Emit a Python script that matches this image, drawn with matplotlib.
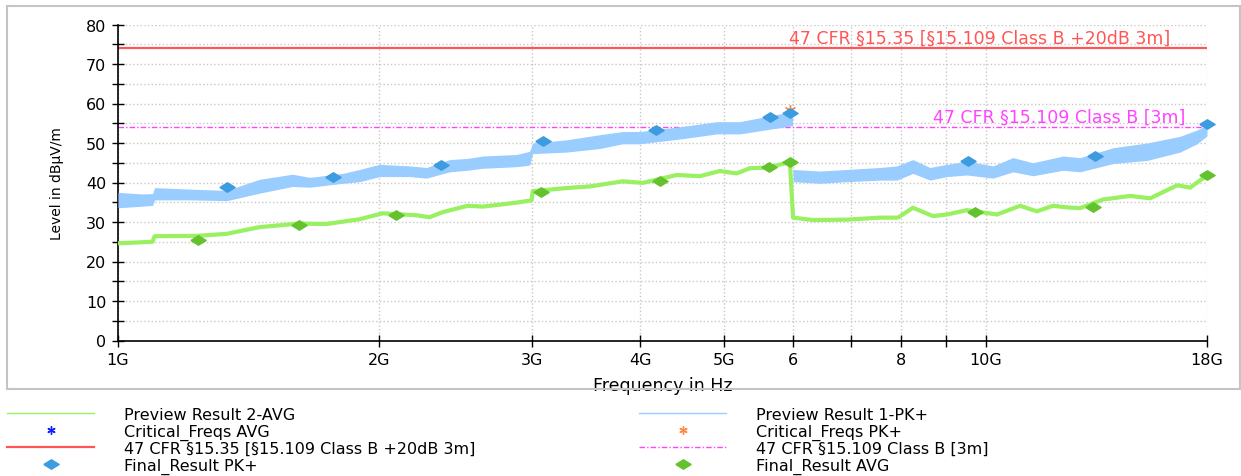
import numpy as np
import matplotlib.pyplot as plt
from matplotlib.lines import Line2D
from matplotlib.patches import Rectangle
from matplotlib.ticker import MultipleLocator, NullLocator, FixedLocator, FixedFormatter
from matplotlib.transforms import blended_transform_factory

# Preview Result 1-PK+ (GHz, upper / lower edge of the noisy trace, dBuV/m)
pk_freq = [1.000, 1.067, 1.096, 1.102, 1.218, 1.334, 1.456, 1.589, 1.663, 1.815,
           1.899, 2.002, 2.168, 2.268, 2.411, 2.529, 2.633, 2.881, 2.982, 3.006,
           3.290, 3.592, 3.818, 3.994, 4.478, 4.900, 5.208, 5.839, 5.990, 6.000,
           6.442, 6.922, 7.555, 7.904, 8.247, 8.628, 9.027, 9.518, 10.20, 10.755,
           11.34, 12.28, 12.85, 14.03, 15.36, 16.76, 17.53, 18.0]
pk_hi = [37.5, 37.1, 37.2, 38.7, 38.3, 38.0, 40.8, 42.1, 41.3, 42.3,
         43.3, 44.6, 44.2, 43.8, 45.8, 46.1, 46.7, 47.1, 47.9, 50.0,
         50.8, 52.1, 52.9, 52.9, 54.2, 55.4, 55.4, 57.5, 57.5, 43.3,
         42.9, 43.3, 43.8, 44.2, 45.8, 43.8, 44.6, 45.4, 44.2, 46.3,
         45.0, 46.7, 46.3, 48.8, 50.0, 51.7, 53.3, 54.5]
pk_lo = [33.6, 34.0, 34.2, 35.6, 35.6, 35.4, 37.3, 39.0, 38.8, 39.8,
         40.2, 41.5, 41.5, 41.1, 42.7, 43.1, 43.6, 44.0, 44.4, 47.3,
         47.7, 48.6, 49.8, 49.8, 51.1, 52.3, 52.3, 54.0, 54.4, 40.2,
         39.8, 40.2, 40.6, 40.6, 42.3, 40.6, 41.5, 41.9, 41.1, 42.7,
         41.7, 43.1, 42.7, 44.8, 45.6, 47.7, 49.8, 51.8]

# Preview Result 2-AVG
avg_freq = [1.000, 1.096, 1.102, 1.235, 1.334, 1.456, 1.615, 1.740, 1.899, 2.018,
            2.209, 2.286, 2.367, 2.529, 2.633, 2.881, 2.998, 3.006, 3.290, 3.497,
            3.818, 4.026, 4.407, 4.685, 4.939, 5.166, 5.349, 5.627, 5.949, 6.000,
            6.323, 6.922, 7.555, 7.925, 8.247, 8.697, 9.027, 9.518, 10.31, 10.96,
            11.46, 11.96, 12.42, 12.85, 13.66, 14.68, 15.48, 16.63, 17.21, 18.0]
avg_level = [24.6, 25.0, 26.4, 26.5, 27.0, 28.7, 29.6, 29.5, 30.7, 32.2,
             31.7, 31.2, 32.5, 34.1, 33.9, 34.9, 35.5, 37.8, 38.6, 39.0,
             40.3, 39.9, 41.9, 41.6, 42.9, 42.3, 43.6, 43.8, 45.2, 31.1,
             30.5, 30.6, 31.1, 31.1, 33.6, 31.5, 31.9, 33.0, 31.9, 34.1,
             32.7, 34.1, 33.7, 33.5, 35.7, 36.6, 36.0, 39.3, 38.7, 41.8]

# Final results
fin_pk_freq = [1.334, 1.769, 2.359, 3.09, 4.174, 5.64, 5.95, 9.55, 13.37, 18.0]
fin_pk_level = [38.8, 41.5, 44.5, 50.5, 53.2, 56.6, 57.6, 45.5, 46.8, 54.8]
fin_avg_freq = [1.236, 1.615, 2.093, 3.076, 4.22, 5.63, 5.95, 9.72, 13.3, 18.0]
fin_avg_level = [25.4, 29.3, 31.8, 37.5, 40.5, 43.8, 45.2, 32.5, 33.7, 41.9]

# Critical frequencies
crit_pk_freq = [5.95]
crit_pk_level = [58.3]

# Limits
limit_pk = 74
limit_avg = 54
limit_pk_label = '47 CFR §15.35 [§15.109 Class B +20dB 3m]'
limit_avg_label = '47 CFR §15.109 Class B [3m]'

x_ticks = [1, 2, 3, 4, 5, 6, 7, 8, 9, 10, 18]
x_labels = ['1G', '2G', '3G', '4G', '5G', '6', '', '8', '', '10G', '18G']

W, H = 1241, 477
fig = plt.figure(figsize=(W / 100, H / 100), dpi=100)
ax = fig.add_axes([118 / W, 1 - 341.5 / H, 1089 / W, 316 / H])

c_pk = '#99CCFF'
c_avg = '#99F060'
c_pk_mark = '#3D9BE0'
c_avg_mark = '#63C22E'
c_red = '#FF5555'
c_mag = '#FF44FF'
diamond = [(-1, 0), (0, 0.62), (1, 0), (0, -0.62), (-1, 0)]

ax.fill_between(pk_freq, pk_lo, pk_hi, color=c_pk, linewidth=0, zorder=3)
ax.plot(avg_freq, avg_level, color=c_avg, lw=3, solid_joinstyle='round', zorder=3)

ax.axhline(limit_pk, color=c_red, lw=1.6, zorder=2)
ax.axhline(limit_avg, color=c_mag, lw=1, linestyle=(0, (4, 1.5, 1, 1.5)), zorder=2)

trans = blended_transform_factory(ax.transAxes, ax.transData)
ax.text(0.966, limit_pk + 0.3, limit_pk_label, color=c_red, fontsize=12.5,
        ha='right', va='bottom', transform=trans)
ax.text(0.980, limit_avg + 0.3, limit_avg_label, color=c_mag, fontsize=12.5,
        ha='right', va='bottom', transform=trans)

ax.plot(crit_pk_freq, crit_pk_level, linestyle='none', marker=(6, 2, 0),
        color='#FF8844', markersize=8, zorder=4)
ax.plot(fin_avg_freq, fin_avg_level, linestyle='none', marker=(6, 2, 0),
        color='#1020FF', markersize=6, zorder=4)
ax.plot(fin_pk_freq, fin_pk_level, linestyle='none', marker=diamond,
        color=c_pk_mark, markersize=11, zorder=5, clip_on=False)
ax.plot(fin_avg_freq, fin_avg_level, linestyle='none', marker=diamond,
        color=c_avg_mark, markersize=11, zorder=5, clip_on=False)

# axes
ax.set_xscale('log')
ax.set_xlim(1, 18)
ax.set_ylim(0, 80)
ax.xaxis.set_major_locator(FixedLocator(x_ticks))
ax.xaxis.set_major_formatter(FixedFormatter(x_labels))
ax.xaxis.set_minor_locator(NullLocator())
ax.yaxis.set_major_locator(MultipleLocator(10))
ax.yaxis.set_minor_locator(MultipleLocator(5))
ax.tick_params(which='both', direction='inout', length=9, width=1, labelsize=11.5)
ax.tick_params(axis='x', pad=4)
ax.tick_params(axis='y', pad=4)

ax.grid(which='major', axis='x', color='#c8c8c8', linestyle=':', lw=1)
ax.grid(which='both', axis='y', color='#c8c8c8', linestyle=':', lw=1)
ax.set_axisbelow(True)
for s in ['top', 'right']:
    ax.spines[s].set_visible(False)
for s in ['left', 'bottom']:
    ax.spines[s].set_linewidth(1.2)

ax.set_xlabel('Frequency in Hz', fontsize=12.5)
ax.xaxis.set_label_coords(0.5, -0.113)
ax.set_ylabel('Level in dBµV/m', fontsize=10)
ax.yaxis.set_label_coords(-0.05, 0.5)

# outer frame
fig.add_artist(Rectangle((7 / W, 1 - 390 / H), 1233 / W, 383 / H, transform=fig.transFigure,
                         fill=False, edgecolor='#c4c4c4', lw=1.5))

# legends
left_handles = [
    Line2D([], [], color=c_avg, lw=1),
    Line2D([], [], color='#1020FF', linestyle='none', marker=(6, 2, 0), markersize=6),
    Line2D([], [], color=c_red, lw=1.6),
    Line2D([], [], color=c_pk_mark, linestyle='none', marker=diamond, markersize=11),
]
left_labels = ['Preview Result 2-AVG', 'Critical_Freqs AVG', limit_pk_label, 'Final_Result PK+']
right_handles = [
    Line2D([], [], color=c_pk, lw=1),
    Line2D([], [], color='#FF8844', linestyle='none', marker=(6, 2, 0), markersize=6),
    Line2D([], [], color=c_mag, lw=1, linestyle=(0, (4, 1.5, 1, 1.5))),
    Line2D([], [], color=c_avg_mark, linestyle='none', marker=diamond, markersize=11),
]
right_labels = ['Preview Result 1-PK+', 'Critical_Freqs PK+', limit_avg_label, 'Final_Result AVG']

leg_kw = dict(loc='upper left', frameon=False, fontsize=11.5, borderpad=0, borderaxespad=0,
              handlelength=5.45, handletextpad=1.9, labelspacing=0.09, numpoints=1)
fig.legend(left_handles, left_labels, bbox_to_anchor=(7 / W, 1 - 408 / H), **leg_kw)
fig.legend(right_handles, right_labels, bbox_to_anchor=(639 / W, 1 - 408 / H), **leg_kw)

plt.savefig('out.png', dpi=100)
plt.close()
